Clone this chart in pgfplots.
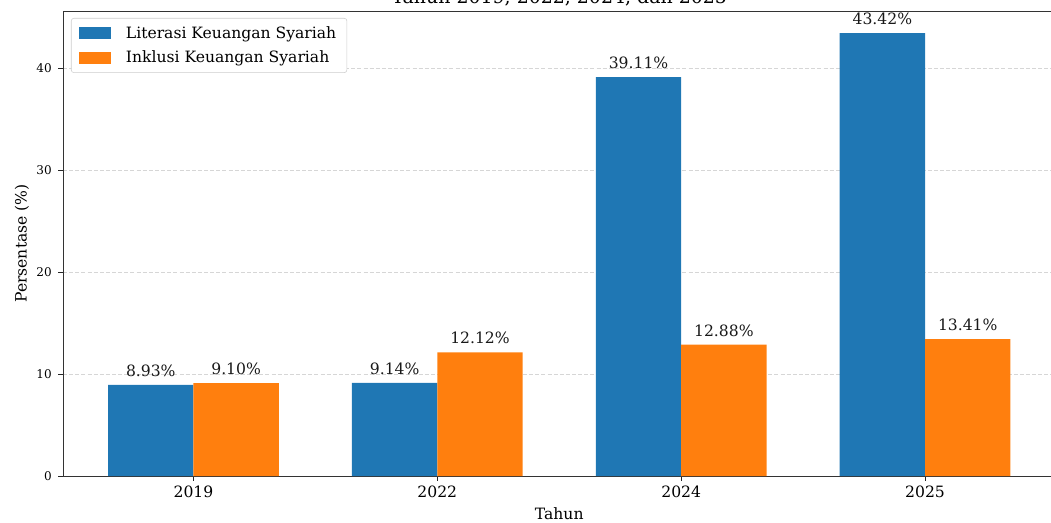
\documentclass[border=0pt]{standalone}
\usepackage{fontspec}
\setmainfont{DejaVu Serif}
\usepackage{pgfplots}
\pgfplotsset{compat=1.18}
\definecolor{c1}{HTML}{1F77B4}
\definecolor{c2}{HTML}{FF7F0E}
\newcommand{\bigf}{\fontsize{11.7}{14}\selectfont}
\newcommand{\smallf}{\fontsize{9}{11}\selectfont}
\begin{document}
\begin{tikzpicture}
\useasboundingbox (-47.25pt,-34.5pt) rectangle (741pt,357pt);
\clip (-47.25pt,-34.5pt) rectangle (741pt,357pt);
\begin{axis}[
  scale only axis,
  width=744.4pt, height=348.75pt,
  xmin=-0.535, xmax=3.535,
  ymin=0, ymax=45.591,
  /pgf/number format/assume math mode=true,
  xtick={0,1,2,3},
  xticklabels={2019,2022,2024,2025},
  ytick={0,10,20,30,40},
  tick pos=left,
  tick align=outside,
  major tick length=3.6pt,
  every tick/.style={black!85, line width=0.6pt},
  axis line style={black!80, line width=0.6pt},
  ymajorgrids,
  major grid style={black!16, line width=0.6pt, dash pattern=on 3pt off 1.6pt},
  xticklabel style={font=\bigf, anchor=base, yshift=-12.4pt, inner sep=0pt},
  yticklabel style={font=\smallf, anchor=east, xshift=-4.65pt, inner sep=0pt},
  xlabel={Tahun},
  ylabel={Persentase (\%)},
  every axis x label/.style={at={(axis description cs:0.5,0)}, anchor=base, yshift=-32.25pt, font=\bigf},
  every axis y label/.style={at={(axis description cs:0,0.5)}, rotate=90, anchor=center, yshift=30.75pt, font=\bigf},
  title={Tahun 2019, 2022, 2024, dan 2025},
  every axis title/.style={at={(axis description cs:0.5,1)}, anchor=base, yshift=5.25pt, font=\fontsize{14.2}{17}\selectfont},
  legend style={at={(axis description cs:0,1)}, anchor=north west, xshift=6pt, yshift=-5.25pt,
    draw=black!20, rounded corners=2pt, fill=white, font=\bigf,
    row sep=4pt, inner xsep=6pt, inner ysep=4pt,
    /tikz/every odd column/.append style={column sep=9pt}},
  legend cell align=left,
  ybar, bar width=0.35, bar shift=0,
  nodes near coords={\pgfmathprintnumber[fixed,fixed zerofill,precision=2]{\pgfplotspointmeta}\%},
  every node near coord/.append style={font=\bigf, anchor=base, yshift=6.4pt, black!90},
]
% bars placed at category -/+ 0.175 (bar width 0.35)
\addplot[fill=c1, draw=none,
  legend image code/.code={\fill[c1, sharp corners] (0pt,-4.5pt) rectangle (24pt,4.5pt);}]
  coordinates {(-0.175,8.93) (0.825,9.14) (1.825,39.11) (2.825,43.42)};
\addlegendentry{Literasi Keuangan Syariah}
\addplot[fill=c2, draw=none,
  legend image code/.code={\fill[c2, sharp corners] (0pt,-4.5pt) rectangle (24pt,4.5pt);}]
  coordinates {(0.175,9.10) (1.175,12.12) (2.175,12.88) (3.175,13.41)};
\addlegendentry{Inklusi Keuangan Syariah}
\end{axis}
\end{tikzpicture}
\end{document}
